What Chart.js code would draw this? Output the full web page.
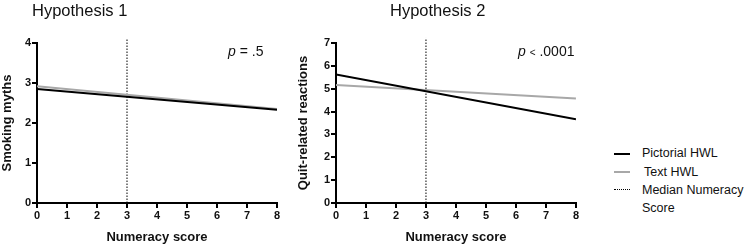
<!DOCTYPE html>
<html>
<head>
<meta charset="utf-8">
<script src="https://cdn.jsdelivr.net/npm/chart.js@4.4.0/dist/chart.umd.min.js"></script>
<style>
  html, body { margin:0; padding:0; background:#fff; }
  body { width:752px; height:246px; position:relative; overflow:hidden; font-family:"Liberation Sans", Arial, sans-serif; color:#111; }
  canvas { position:absolute; top:0; }
  .t { position:absolute; white-space:nowrap; line-height:1; }
  .title { font-size:16.5px; }
  .p { font-size:14px; }
  .leg { position:absolute; left:614px; font-size:12.5px; }
  .row { position:absolute; left:0; white-space:nowrap; }
  .sw { position:absolute; left:0; width:16px; }
  .lbl { position:absolute; left:28px; line-height:18px; }
</style>
</head>
<body>
<canvas id="c1" width="290" height="246" style="left:0px"></canvas>
<canvas id="c2" width="290" height="246" style="left:290px"></canvas>

<div class="t title" style="left:32px; top:2px;">Hypothesis 1</div>
<div class="t title" style="left:390px; top:2px;">Hypothesis 2</div>
<div class="t p" style="left:228px; top:44px;"><i>p</i> = .5</div>
<div class="t p" style="left:518px; top:44px;"><i>p</i> <span style="font-size:10px">&lt;</span> .0001</div>

<div class="leg" id="legend"></div>

<script>
// ---- data ----
const numeracyRange = [0, 8];          // x endpoints of fitted lines
const medianNumeracy = 3;
const xTicks = [0, 1, 2, 3, 4, 5, 6, 7, 8];
const h1Pictorial = [2.85, 2.33];      // Smoking myths
const h1Text = [2.92, 2.35];
const h2Pictorial = [5.62, 3.66];      // Quit-related reactions
const h2Text = [5.16, 4.57];
const legendLabels = ['Pictorial HWL', ' Text HWL', 'Median Numeracy Score'];

const FONT = '"Liberation Sans", Arial, sans-serif';

function pts(vals) { return numeracyRange.map((x, i) => ({ x: x, y: vals[i] })); }

function makeChart(id, yMax, dashTop, yTitle, pic, txt, yWidth, yTitlePad, padRight) {
  new Chart(document.getElementById(id), {
    type: 'line',
    data: {
      datasets: [
        { label: legendLabels[0], data: pts(pic), borderColor: '#000', borderWidth: 2, pointRadius: 0, tension: 0 },
        { label: legendLabels[1], data: pts(txt), borderColor: '#a8a8a8', borderWidth: 2, pointRadius: 0, tension: 0 },
        { label: legendLabels[2], data: [{ x: medianNumeracy, y: 0 }, { x: medianNumeracy, y: dashTop }],
          borderColor: '#000', borderWidth: 1, borderDash: [1.5, 1.5], pointRadius: 0, clip: false }
      ]
    },
    options: {
      responsive: false,
      animation: false,
      layout: { padding: { left: 0, right: padRight, top: 43, bottom: 0 } },
      plugins: { legend: { display: false }, tooltip: { enabled: false } },
      scales: {
        x: {
          type: 'linear', min: 0, max: 8,
          afterBuildTicks: s => { s.ticks = xTicks.map(v => ({ value: v })); },
          afterFit: s => { s.height = 43; },
          ticks: { color: '#111', font: { family: FONT, size: 11, weight: 'bold' }, padding: 1, maxRotation: 0 },
          grid: { drawOnChartArea: false, color: '#000', lineWidth: 2, tickLength: 5 },
          border: { color: '#000', width: 2 },
          title: { display: true, text: 'Numeracy score', color: '#111', font: { family: FONT, size: 13, weight: 'bold' }, padding: { top: 0, bottom: 1 } }
        },
        y: {
          type: 'linear', min: 0, max: yMax,
          afterFit: s => { s.width = yWidth; },
          ticks: { stepSize: 1, color: '#111', font: { family: FONT, size: 11, weight: 'bold' }, padding: 1 },
          grid: { drawOnChartArea: false, color: '#000', lineWidth: 2, tickLength: 5 },
          border: { color: '#000', width: 2 },
          title: { display: true, text: yTitle, color: '#111', font: { family: FONT, size: 13, weight: 'bold' }, padding: { top: yTitlePad, bottom: 0 } }
        }
      }
    }
  });
}

makeChart('c1', 4, 4.12, 'Smoking myths', h1Pictorial, h1Text, 37, 0, 13);
makeChart('c2', 7, 7.22, 'Quit-related reactions', h2Pictorial, h2Text, 46, 6, 4);

// ---- legend (HTML) ----
const leg = document.getElementById('legend');
const styles = [
  { top: 144, sw: 'border-top:2px solid #000;', swTop: 9, lblLeft: 28 },
  { top: 163, sw: 'border-top:2px solid #a8a8a8;', swTop: 8, lblLeft: 30 },
  { top: 181, sw: 'border-top:1px dotted #000;', swTop: 8, lblLeft: 28 }
];
legendLabels.forEach((lab, i) => {
  const st = styles[i];
  const row = document.createElement('div');
  row.className = 'row';
  row.style.top = (st.top - 144) + 'px';
  const sw = document.createElement('div');
  sw.className = 'sw';
  sw.style.cssText = st.sw + 'top:' + st.swTop + 'px;';
  const lb = document.createElement('div');
  lb.className = 'lbl';
  lb.style.left = st.lblLeft + 'px';
  if (i === 2) {
    lb.innerHTML = 'Median Numeracy<br>Score';
  } else {
    lb.textContent = lab;
  }
  row.appendChild(sw); row.appendChild(lb);
  leg.appendChild(row);
});
leg.style.top = '144px';
</script>
</body>
</html>
